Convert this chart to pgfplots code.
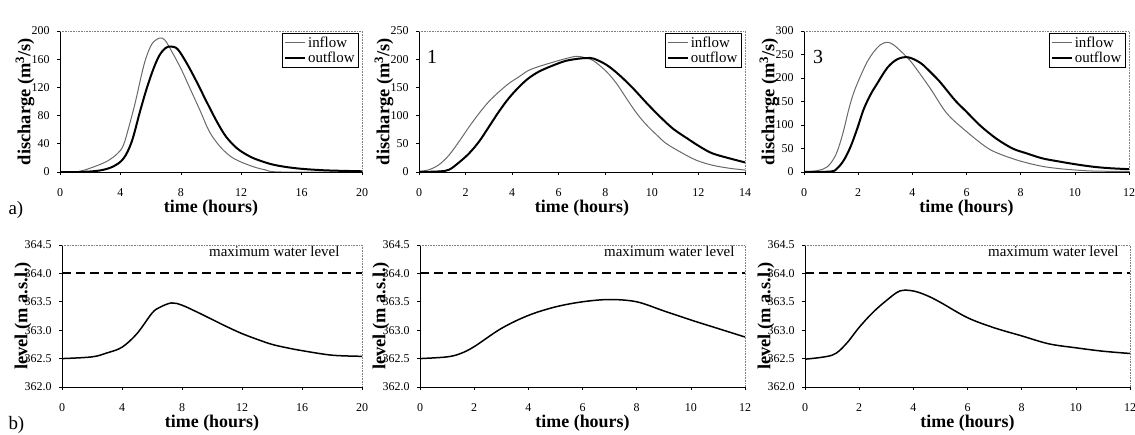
\documentclass[border=0pt]{standalone}
\usepackage{fontspec}
\setmainfont{Liberation Serif}
\usepackage{pgfplots}
\usepackage{pgfplotstable}
\pgfplotsset{compat=1.18}
\definecolor{inflowgray}{RGB}{105,105,105}

\pgfplotstableread{
t Q
0 0
1.0 0
1.5 2
2.2 7
3.1 15
3.8 26
4.2 38
4.6 67
5.0 100
5.4 138
5.7 162
6.1 182
6.6 190
6.95 187
7.4 171
8.0 147
8.6 119
9.3 86
9.9 57
10.6 36
11.3 22
11.9 15
12.8 7.5
13.6 3
14.6 0
20 0
}\inA
\pgfplotstableread{
t Q
0 0
1.3 0
2.6 2
3.5 7.6
4.2 19
4.75 43
5.3 86
5.75 119
6.2 147
6.6 166
7.0 176
7.35 178
7.8 174
8.4 154
9.05 128
9.7 100
10.4 71
11.0 50
11.7 34
12.4 24
13.0 18
14.0 11
15 7
16 4.5
17 3
18 2
20 1
}\outA
\pgfplotstableread{
t Q
0 1
0.43 4
0.86 13
1.29 30
1.72 54
2.15 80
2.58 104
3.0 125
3.43 142
3.86 157
4.3 169
4.7 180
5.15 187
5.7 194
6.3 201
6.75 205
7.1 203
7.5 197
8.05 178
8.48 157
8.9 131
9.35 104
9.78 83
10.2 66
10.6 51
11.2 36
11.9 21
12.6 12
13.35 6.5
14 3.5
}\inB
\pgfplotstableread{
t Q
0 0
0.86 1
1.29 4
1.72 17
2.15 33
2.58 54
3.0 80
3.43 107
3.86 131
4.3 151
4.7 166
5.15 178
5.7 188
6.3 197
6.87 201
7.2 202
7.5 201
8.05 190
8.6 172
9.2 148
9.78 122
10.35 98
10.9 77
11.5 60
12.06 45
12.6 33
13.35 24
14 17
}\outB
\pgfplotstableread{
t Q
0 0
0.5 3
0.86 11
1.17 36
1.42 79
1.66 135
1.85 171
2.1 206
2.34 235
2.58 256
2.83 271
3.08 276
3.32 270
3.7 250
4.0 231
4.66 178
5.27 125
6.0 86
6.75 52
7.24 38
8.0 23
8.8 12
9.45 7
10.07 4
10.7 2
12 1
}\inC
\pgfplotstableread{
t Q
0 0
0.98 1
1.23 8
1.48 26
1.72 54
1.97 93
2.2 133
2.46 165
2.7 188
3.08 222
3.45 240
3.85 244
4.3 232
4.66 213
5.0 193
5.27 174
5.6 151
6.0 128
6.5 99
7.1 71
7.7 50
8.2 40
8.8 29
9.45 22
10.07 16
10.7 11
11.3 8
12 6
}\outC
\pgfplotstableread{
t L
0 362.5
2 362.53
3 362.6
4 362.7
5 362.94
6 363.3
6.5 363.4
7.3 363.48
8 363.44
9 363.32
10 363.19
11 363.06
12 362.94
13 362.84
14 362.75
15 362.69
16 362.64
18 362.56
20 362.54
}\levA
\pgfplotstableread{
t L
0 362.5
1 362.53
1.5 362.59
2 362.71
3 363.03
4 363.26
5 363.41
6 363.5
7 363.54
8 363.5
9 363.34
10 363.18
11 363.03
12 362.88
}\levB
\pgfplotstableread{
t L
0 362.49
1 362.56
1.5 362.75
2 363.05
2.5 363.31
3 363.52
3.5 363.69
4 363.69
4.5 363.61
5 363.49
6 363.22
7 363.04
8 362.9
9 362.76
10 362.69
11 362.63
12 362.59
}\levC

\pgfplotsset{
  panel/.style={
    scale only axis,
    axis x line*=bottom, axis y line*=left,
    axis line style={-, black, line width=0.8bp},
    tick align=outside,
    major tick length=3bp,
    tick style={black, line width=0.6bp},
    ticklabel style={font=\fontsize{12}{13}\selectfont},
    /pgf/number format/assume math mode=true,
    xticklabel style={yshift=-10bp},
    yticklabel style={xshift=-4bp},
    xlabel style={font=\fontsize{18}{20}\selectfont\bfseries, at={(axis description cs:0.5,0)}, anchor=base, yshift=-41bp},
    ylabel style={font=\fontsize{18.5}{20}\selectfont\bfseries, at={(axis description cs:0,0.5)}, anchor=center},
    xlabel={time (hours)},
    after end axis/.code={\draw[gray, densely dotted, line width=0.6bp] (rel axis cs:0,1) -- (rel axis cs:1,1) -- (rel axis cs:1,0);},
    legend style={at={(rel axis cs:0.988,0.985)}, anchor=north east, draw=black, line width=0.6bp,
      font=\fontsize{15}{15}\selectfont, inner sep=1.5bp, row sep=-1bp, legend cell align=left},
    legend image code/.code={\draw[#1] (0bp,0bp) -- (20bp,0bp);},
  },
  inflow/.style={inflowgray, line width=1bp, smooth, tension=0.55},
  outflow/.style={black, line width=2bp, smooth, tension=0.55},
  top/.style={panel, height=141bp, ymin=0, ylabel={discharge (m\textsuperscript{3}/s)}, ylabel style={yshift=35bp}},
  bot/.style={panel, height=142bp, ymin=362, ymax=364.5, ytick={362,362.5,363,363.5,364,364.5},
    yticklabel style={/pgf/number format/.cd, fixed, fixed zerofill, precision=1},
    ylabel={level (m a.s.l.)}, ylabel style={yshift=39bp}},
  lev/.style={black, line width=1.5bp, smooth, tension=0.55},
  maxl/.style={black, line width=1.8bp, dash pattern=on 9bp off 5bp},
}

\begin{document}
\begin{tikzpicture}[x=1bp,y=1bp]
\useasboundingbox (0,0) rectangle (1135,435);

% top row
\begin{axis}[top, at={(60bp,263bp)}, anchor=south west, width=302bp,
  xmin=0, xmax=20, ymax=200, xtick={0,4,...,20}, ytick={0,40,...,200}]
\addplot[inflow] table[x=t,y=Q]{\inA};
\addplot[outflow] table[x=t,y=Q]{\outA};
\legend{inflow,outflow}
\node[anchor=base west, font=\fontsize{18}{20}\selectfont] at (rel axis cs:0,1) [xshift=-2bp, yshift=3bp] {rainfall-runoff model};
\end{axis}

\begin{axis}[top, at={(419bp,263bp)}, anchor=south west, width=326bp,
  xmin=0, xmax=14, ymax=250, xtick={0,2,...,14}, ytick={0,50,...,250}]
\addplot[inflow] table[x=t,y=Q]{\inB};
\addplot[outflow] table[x=t,y=Q]{\outB};
\legend{inflow,outflow}
\node[font=\fontsize{20}{22}\selectfont] at (rel axis cs:0,1) [xshift=13bp, yshift=-26bp] {1};
\end{axis}

\begin{axis}[top, at={(804bp,263bp)}, anchor=south west, width=325bp,
  xmin=0, xmax=12, ymax=300, xtick={0,2,...,12}, ytick={0,50,...,300}]
\addplot[inflow] table[x=t,y=Q]{\inC};
\addplot[outflow] table[x=t,y=Q]{\outC};
\legend{inflow,outflow}
\node[font=\fontsize{20}{22}\selectfont] at (rel axis cs:0,1) [xshift=14bp, yshift=-26bp] {3};
\end{axis}

% bottom row
\begin{axis}[bot, at={(62bp,48bp)}, anchor=south west, width=300bp,
  xmin=0, xmax=20, xtick={0,4,...,20}]
\addplot[maxl] coordinates {(0,364) (20,364)};
\addplot[lev] table[x=t,y=L]{\levA};
\node[anchor=base east, font=\fontsize{15}{16}\selectfont] at (rel axis cs:1,1) [xshift=-19bp, yshift=-12bp] {maximum water level};
\end{axis}

\begin{axis}[bot, at={(420bp,48bp)}, anchor=south west, width=325bp,
  xmin=0, xmax=12, xtick={0,2,...,12}]
\addplot[maxl] coordinates {(0,364) (12,364)};
\addplot[lev] table[x=t,y=L]{\levB};
\node[anchor=base east, font=\fontsize{15}{16}\selectfont] at (rel axis cs:1,1) [xshift=-7bp, yshift=-12bp] {maximum water level};
\end{axis}

\begin{axis}[bot, at={(805bp,48bp)}, anchor=south west, width=325bp,
  xmin=0, xmax=12, xtick={0,2,...,12}]
\addplot[maxl] coordinates {(0,364) (12,364)};
\addplot[lev] table[x=t,y=L]{\levC};
\node[anchor=base east, font=\fontsize{15}{16}\selectfont] at (rel axis cs:1,1) [xshift=-8bp, yshift=-12bp] {maximum water level};
\end{axis}

\node[anchor=base west, font=\fontsize{19}{20}\selectfont] at (5,220) {a)};
\node[anchor=base west, font=\fontsize{19}{20}\selectfont] at (5,5) {b)};
\end{tikzpicture}
\end{document}
